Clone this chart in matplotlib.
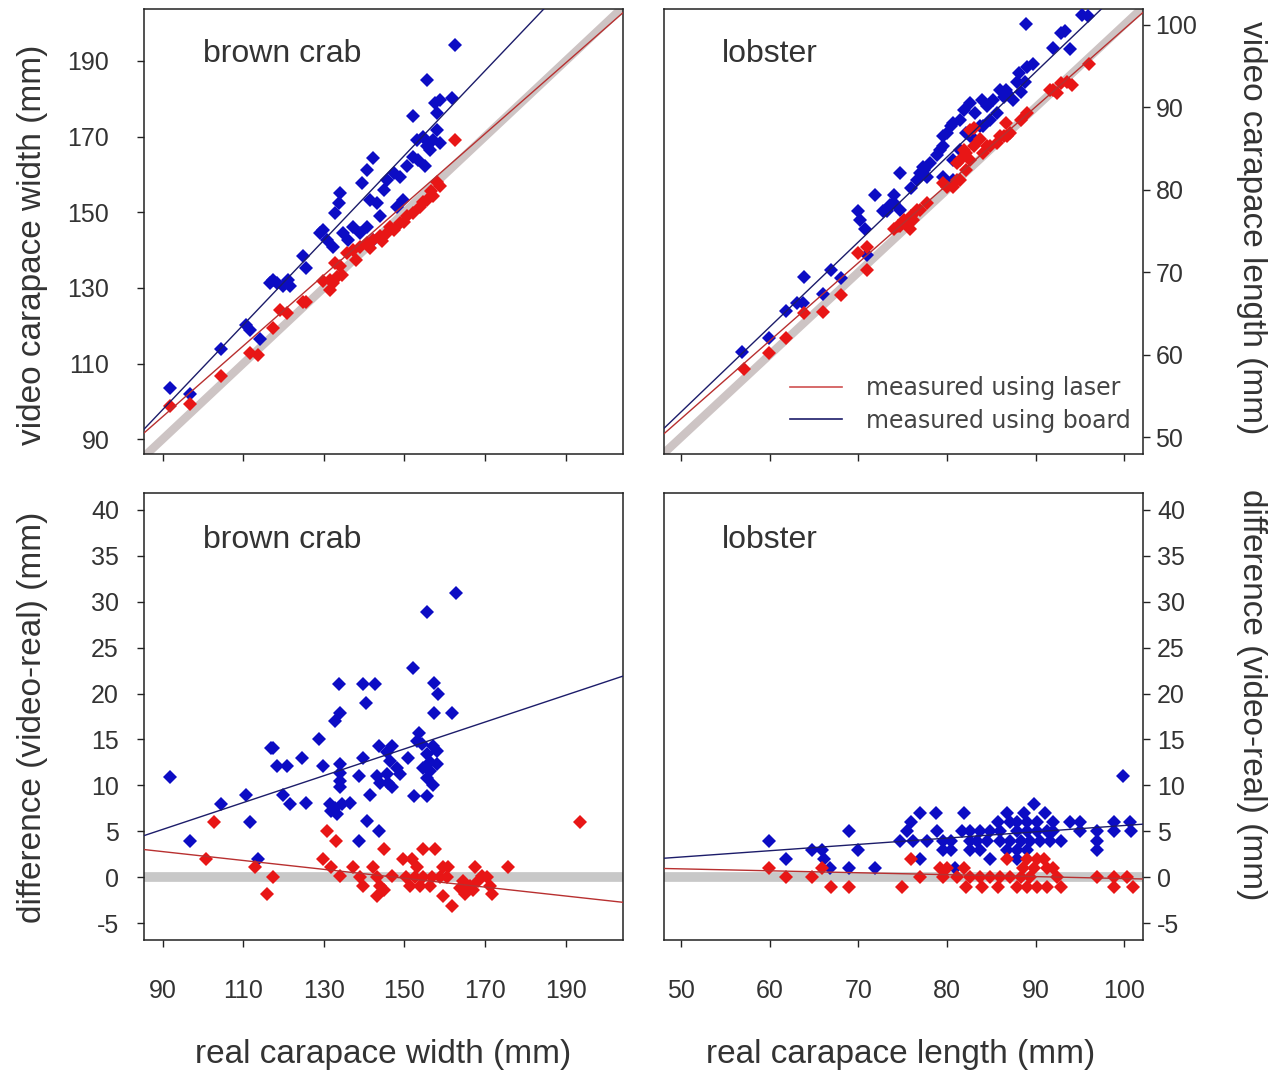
import numpy as np
import matplotlib
matplotlib.use("Agg")
from matplotlib import pyplot as plt
from matplotlib.lines import Line2D

plt.rcParams['font.family'] = ['Liberation Sans', 'DejaVu Sans']
plt.rcParams['axes.unicode_minus'] = False

# ---- brown crab: video vs real width (top left)
crab_top_laser_real = [91.8, 96.9, 104.6, 111.7, 113.7, 117.5, 119.1, 120.8, 124.9, 125.7, 129.9, 131.6,
                       133.2, 134.5, 132.8, 134.1, 131.5, 132.3, 135.7, 137.3, 139.0, 140.6, 142.3, 143.9,
                       145.6, 147.3, 138.1, 148.9, 150.6, 152.2, 153.9, 155.5, 157.2, 158.8, 158.0, 162.5,
                       141.5, 144.5, 146.5, 150.0, 154.5, 156.5]
crab_top_laser_video = [98.7, 99.3, 106.6, 112.8, 112.3, 119.4, 124.2, 123.3, 126.4, 126.4, 131.7, 132.1,
                        133.0, 133.5, 136.5, 135.7, 129.5, 131.3, 139.2, 140.1, 140.9, 141.8, 142.7, 143.6,
                        144.5, 145.3, 137.4, 147.1, 148.9, 149.8, 151.5, 153.3, 154.2, 156.8, 158.1, 169.0,
                        140.5, 142.5, 146.2, 147.5, 152.8, 155.5]
crab_top_board_real = [91.8, 96.9, 104.6, 110.7, 111.7, 114.2, 116.6, 118.3, 119.9, 121.2, 124.9, 125.7,
                       129.0, 129.9, 130.7, 132.3, 132.8, 133.7, 134.1, 134.8, 136.1, 137.3, 139.0, 140.6,
                       142.3, 139.4, 140.6, 142.3, 141.4, 143.1, 144.8, 145.6, 143.9, 147.3, 148.9, 150.6,
                       152.2, 148.1, 149.7, 152.2, 153.0, 154.7, 155.5, 157.2, 158.0, 158.8, 156.3, 153.4,
                       155.1, 155.5, 157.6, 158.8, 161.7, 158.0, 162.5, 117.4, 121.6]
crab_top_board_video = [103.5, 101.9, 113.8, 120.3, 118.9, 116.5, 131.3, 131.3, 130.4, 132.1, 138.3, 135.2,
                        144.5, 145.4, 142.7, 140.9, 149.8, 152.4, 155.0, 144.5, 142.7, 146.2, 144.5, 146.2,
                        142.7, 157.7, 161.2, 164.3, 153.3, 152.4, 155.9, 158.6, 148.9, 160.3, 159.4, 162.1,
                        164.7, 151.5, 153.3, 175.3, 169.1, 170.0, 167.4, 169.1, 171.8, 168.3, 166.5, 163.8,
                        162.1, 185.0, 178.8, 179.7, 180.1, 176.2, 194.2, 132.0, 130.4]

# ---- brown crab: difference vs real width (bottom left)
crab_diff_board_real = [91.8, 96.9, 104.6, 110.8, 111.8, 113.7, 116.8, 117.5, 118.3, 120.8, 119.9, 121.6,
                        124.7, 125.6, 128.9, 129.9, 131.5, 132.7, 134.4, 136.5, 131.9, 133.2, 133.8, 139.6,
                        142.7, 140.5, 134.0, 132.8, 134.0, 134.0, 134.0, 134.0, 139.8, 138.6, 143.8, 146.8,
                        145.6, 146.4, 148.1, 148.9, 145.6, 143.1, 143.9, 146.0, 146.8, 141.4, 140.6, 143.8,
                        138.6, 151.0, 152.0, 155.5, 162.8, 157.4, 158.4, 157.4, 161.7, 153.7, 153.0, 154.3,
                        155.5, 157.2, 158.0, 156.3, 158.0, 154.7, 156.3, 155.5, 157.2, 152.4, 155.5]
crab_diff_board = [10.9, 4.0, 8.0, 9.0, 6.0, 2.0, 14.1, 14.1, 12.1, 12.1, 9.0, 8.0,
                   13.0, 8.1, 15.0, 12.1, 8.0, 7.6, 8.0, 8.1, 7.2, 6.9, 21.0, 21.0,
                   21.0, 19.0, 17.9, 17.0, 12.3, 11.4, 10.5, 9.8, 13.0, 11.0, 14.3, 14.3,
                   13.6, 12.7, 11.9, 11.2, 11.2, 11.0, 10.3, 10.3, 9.8, 9.0, 6.1, 5.1,
                   4.0, 13.0, 22.8, 28.9, 30.9, 21.1, 19.9, 17.9, 17.9, 15.7, 14.8, 14.5,
                   13.4, 14.3, 13.7, 12.5, 12.3, 11.9, 11.6, 10.8, 10.1, 8.9, 8.9]
crab_diff_laser_real = [102.7, 100.8, 112.9, 117.5, 116.0, 193.6, 175.6, 130.7, 133.0, 129.9, 131.9, 134.0,
                        137.3, 139.0, 139.8, 142.3, 143.1, 143.9, 143.1, 144.8, 146.8, 149.7, 151.8, 150.5,
                        152.6, 154.7, 156.8, 151.3, 153.8, 156.3, 153.0, 154.7, 157.6, 159.6, 160.9, 158.9,
                        160.6, 159.6, 161.7, 163.8, 165.1, 166.3, 167.5, 169.2, 170.4, 171.2, 171.6, 168.3,
                        167.1, 164.6, 144.8]
crab_diff_laser = [6.0, 2.0, 1.1, 0.1, -1.8, 6.0, 1.1, 5.1, 4.0, 2.0, 1.1, 0.2,
                   1.1, 0.0, -0.9, 1.1, 0.0, -0.9, -2.0, -1.4, 0.2, 2.0, 2.0, 0.0,
                   0.0, 0.0, 0.0, -0.9, -0.9, -0.9, 1.1, 3.1, 3.1, 1.1, 1.1, 0.0,
                   0.0, -2.0, -3.1, -1.1, -1.8, -0.9, 1.1, 0.2, 0.0, -0.9, -1.8, -0.4,
                   -1.4, -0.4, 3.1]

# ---- lobster: video vs real length (top right)
lob_top_board_real = [56.9, 59.9, 61.8, 63.1, 63.8, 63.9, 66.0, 66.9, 68.0, 70.0, 70.2, 70.8,
                      71.0, 71.9, 73.2, 74.0, 74.7, 75.9, 76.6, 77.4, 78.1, 78.9, 79.6, 80.0,
                      80.4, 79.8, 80.7, 80.7, 81.5, 81.9, 82.6, 83.2, 83.9, 84.5, 85.2, 82.2,
                      83.0, 84.1, 84.9, 85.6, 86.4, 86.7, 87.5, 88.3, 88.1, 89.0, 89.7, 88.9,
                      92.0, 92.8, 93.3, 93.9, 95.2, 95.9, 79.6, 79.2, 77.3, 77.0, 77.7, 79.6,
                      74.0, 73.6, 72.8, 74.7, 87.9, 88.8, 86.0, 86.8, 81.5, 80.7, 83.7, 82.6]
lob_top_board_video = [60.3, 62.1, 65.3, 66.3, 66.3, 69.4, 67.4, 70.3, 69.3, 77.4, 76.4, 75.2,
                       72.1, 79.4, 77.4, 78.4, 82.0, 80.2, 81.2, 82.4, 83.2, 84.2, 85.3, 86.9,
                       87.7, 81.0, 81.2, 83.6, 84.8, 89.7, 90.5, 89.3, 90.9, 90.1, 90.9, 86.9,
                       86.1, 87.7, 88.5, 89.3, 91.3, 92.1, 90.9, 91.9, 94.1, 94.9, 95.2, 100.1,
                       97.2, 99.0, 99.2, 97.0, 101.2, 101.1, 86.5, 84.8, 82.8, 82.0, 81.6, 81.6,
                       79.4, 78.2, 77.4, 77.6, 93.1, 93.1, 92.1, 91.7, 88.5, 88.1, 87.7, 86.5]
lob_top_laser_real = [57.1, 59.9, 61.8, 63.9, 66.0, 68.0, 70.0, 71.0, 71.0, 74.0, 74.7, 75.5,
                      76.2, 77.0, 77.7, 75.8, 80.0, 80.7, 81.5, 81.5, 82.2, 83.0, 83.7, 84.5,
                      82.6, 84.1, 84.9, 85.6, 86.4, 87.1, 86.7, 89.0, 88.4, 92.0, 92.8, 93.5,
                      94.1, 96.0, 91.6, 92.4, 86.0, 86.8, 83.0, 81.9, 82.6, 81.1, 82.2, 79.6,
                      81.1, 76.6, 76.0, 75.1, 74.5]
lob_top_laser_video = [58.3, 60.2, 62.1, 65.1, 65.2, 67.3, 72.3, 73.1, 70.3, 75.2, 75.6, 76.0,
                       76.4, 77.6, 78.4, 75.2, 80.4, 80.4, 81.2, 83.6, 84.4, 85.3, 86.1, 85.3,
                       87.3, 84.4, 85.3, 85.7, 86.5, 86.9, 88.1, 89.3, 88.5, 92.1, 92.9, 93.1,
                       92.7, 95.2, 92.1, 91.7, 86.5, 86.5, 87.5, 84.8, 83.6, 83.2, 82.4, 80.8,
                       81.2, 77.6, 76.8, 76.4, 75.6]

# ---- lobster: difference vs real length (bottom right)
lob_diff_board_real = [59.9, 61.8, 64.8, 65.9, 66.1, 66.8, 68.9, 68.9, 70.0, 71.9,
                       77.0, 78.8, 81.9, 86.8, 88.7, 91.0, 89.8, 99.9,
                       75.9, 85.8, 87.1, 87.9, 89.0, 90.1, 92.0, 93.9, 95.0, 98.8, 100.6,
                       75.5, 78.9, 81.7, 82.6, 83.7, 84.9, 86.0, 87.9, 89.0, 90.1, 91.3, 92.0,
                       95.0, 96.9, 98.8, 100.7,
                       74.7, 76.2, 77.7, 79.6, 80.4, 82.6, 83.4, 84.5, 86.0, 87.1, 88.3, 89.4,
                       90.5, 91.6, 92.8, 96.9,
                       79.6, 80.4, 82.6, 83.7, 86.8, 87.9, 89.0, 96.9,
                       77.0, 84.9, 87.9, 80.9]
lob_diff_board = [4, 2, 3, 3, 2, 1, 5, 1, 3, 1,
                  7, 7, 7, 7, 7, 7, 8, 11,
                  6, 6, 6, 6, 6, 6, 6, 6, 6, 6, 6,
                  5, 5, 5, 5, 5, 5, 5, 5, 5, 5, 5, 5,
                  5, 5, 5, 5,
                  4, 4, 4, 4, 4, 4, 4, 4, 4, 4, 4, 4,
                  4, 4, 4, 4,
                  3, 3, 3, 3, 3, 3, 3, 3,
                  2, 2, 2, 1]
lob_diff_laser_real = [59.9, 61.8, 64.8, 65.9, 66.9, 68.9,
                       75.9, 86.8, 89.0, 90.1, 90.9,
                       79.2, 80.0, 81.9, 88.6, 89.8, 91.3, 92.0,
                       77.0, 79.6, 81.1, 82.6, 83.7, 84.9, 86.0, 87.1, 88.3, 89.4, 92.4, 96.9,
                       98.8, 100.3,
                       74.9, 82.1, 83.9, 85.8, 87.9, 89.0, 90.1, 91.3, 92.8, 98.8, 101.0]
lob_diff_laser = [1, 0, 0, 1, -1, -1,
                  2, 2, 2, 2, 2,
                  1, 1, 1, 1, 1, 1, 1,
                  0, 0, 0, 0, 0, 0, 0, 0, 0, 0, 0, 0,
                  0, 0,
                  -1, -1, -1, -1, -1, -1, -1, -1, -1, -1, -1]

# fitted lines: (intercept, slope)
fit_crab_top_laser = (11.8, 0.935)
fit_crab_top_board = (-3.0, 1.12)
fit_crab_diff_laser = (7.16, -0.0483)
fit_crab_diff_board = (-7.92, 0.146)
fit_lob_top_laser = (5.0, 0.945)
fit_lob_top_board = (1.57, 1.030)
fit_lob_diff_laser = (1.99, -0.0211)
fit_lob_diff_board = (-1.21, 0.0686)

crab_ticks = [90, 110, 130, 150, 170, 190]
lob_ticks = [50, 60, 70, 80, 90, 100]
diff_ticks = [-5, 0, 5, 10, 15, 20, 25, 30, 35, 40]

W, H = 1271, 1074
BLUE = '#0c0cc4'
RED = '#e81616'
LBLUE = '#1c1c6a'
LRED = '#b83030'
BAND = '#c8c8c8'
BAND_TOP = '#cdc4c4'
TXT = '#333333'

fig = plt.figure(figsize=(W / 100, H / 100), dpi=100)


def px_axes(x0, y0, x1, y1):
    return fig.add_axes([x0 / W, 1 - y1 / H, (x1 - x0) / W, (y1 - y0) / H])


def style(ax, side, ypad):
    for s in ax.spines.values():
        s.set_color('#222222')
        s.set_linewidth(1.1)
    ax.tick_params(direction='out', length=5, width=1, colors='#222222',
                   labelsize=18, labelcolor=TXT)
    ax.tick_params(axis='x', pad=23)
    ax.tick_params(axis='y', pad=ypad)
    if side == 'right':
        ax.yaxis.tick_right()


def draw_points(ax, x, y, c):
    ax.plot(x, y, linestyle='none', marker='D', markersize=7.6,
            markeredgewidth=0, color=c, zorder=3)


def draw_fit(ax, fit, c, xlim):
    xs = np.array(xlim)
    ax.plot(xs, fit[0] + fit[1] * xs, color=c, lw=1.0, zorder=4)


crab_lim = (85.4, 204.2)
lob_lim = (48.1, 102.1)
diff_lim = (-6.8, 41.8)

# top left
ax = px_axes(144, 9, 623, 454)
ax.plot(crab_lim, crab_lim, color=BAND_TOP, lw=6, solid_capstyle='butt', zorder=1)
draw_points(ax, crab_top_board_real, crab_top_board_video, BLUE)
draw_points(ax, crab_top_laser_real, crab_top_laser_video, RED)
draw_fit(ax, fit_crab_top_laser, LRED, crab_lim)
draw_fit(ax, fit_crab_top_board, LBLUE, crab_lim)
ax.set_xlim(crab_lim)
ax.set_ylim(86.1, 203.7)
ax.set_xticks(crab_ticks)
ax.set_xticklabels([])
ax.set_yticks(crab_ticks)
style(ax, 'left', 20)
ax.text(0.123, 0.881, 'brown crab', transform=ax.transAxes, fontsize=23, color=TXT)

# top right
ax = px_axes(664, 9, 1143, 454)
ax.plot(lob_lim, lob_lim, color=BAND_TOP, lw=6, solid_capstyle='butt', zorder=1)
draw_points(ax, lob_top_board_real, lob_top_board_video, BLUE)
draw_points(ax, lob_top_laser_real, lob_top_laser_video, RED)
draw_fit(ax, fit_lob_top_laser, LRED, lob_lim)
draw_fit(ax, fit_lob_top_board, LBLUE, lob_lim)
ax.set_xlim(lob_lim)
ax.set_ylim(48.0, 101.9)
ax.set_xticks(lob_ticks)
ax.set_xticklabels([])
ax.set_yticks(lob_ticks)
style(ax, 'right', 4)
ax.text(0.120, 0.881, 'lobster', transform=ax.transAxes, fontsize=23, color=TXT)
handles = [Line2D([], [], color='#d05050', lw=1.2),
           Line2D([], [], color=LBLUE, lw=1.2)]
ax.legend(handles, ['measured using laser', 'measured using board'],
          loc='center left', bbox_to_anchor=(0.263, 0.111), frameon=False,
          borderpad=0, borderaxespad=0, handlelength=2.2, handletextpad=1.0,
          labelspacing=0.35, prop={'family': 'DejaVu Sans', 'size': 17},
          labelcolor='#444444')

# bottom left
ax = px_axes(144, 493, 623, 940)
ax.plot(crab_lim, (0, 0), color=BAND, lw=7, solid_capstyle='butt', zorder=1)
draw_points(ax, crab_diff_board_real, crab_diff_board, BLUE)
draw_points(ax, crab_diff_laser_real, crab_diff_laser, RED)
draw_fit(ax, fit_crab_diff_laser, LRED, crab_lim)
draw_fit(ax, fit_crab_diff_board, LBLUE, crab_lim)
ax.set_xlim(crab_lim)
ax.set_ylim(diff_lim)
ax.set_xticks(crab_ticks)
ax.set_yticks(diff_ticks)
style(ax, 'left', 13)
ax.text(0.123, 0.876, 'brown crab', transform=ax.transAxes, fontsize=23, color=TXT)

# bottom right
ax = px_axes(664, 493, 1143, 940)
ax.plot(lob_lim, (0, 0), color=BAND, lw=7, solid_capstyle='butt', zorder=1)
draw_points(ax, lob_diff_board_real, lob_diff_board, BLUE)
draw_points(ax, lob_diff_laser_real, lob_diff_laser, RED)
draw_fit(ax, fit_lob_diff_laser, LRED, lob_lim)
draw_fit(ax, fit_lob_diff_board, LBLUE, lob_lim)
ax.set_xlim(lob_lim)
ax.set_ylim(diff_lim)
ax.set_xticks(lob_ticks)
ax.set_yticks(diff_ticks)
style(ax, 'right', 5)
ax.text(0.120, 0.876, 'lobster', transform=ax.transAxes, fontsize=23, color=TXT)

# axis titles
lab = dict(fontsize=24, color=TXT, ha='center', va='center')
fig.text(33 / W, 1 - 245 / H, 'video carapace width (mm)', rotation=90, **lab)
fig.text(33 / W, 1 - 717 / H, 'difference (video-real) (mm)', rotation=90, **lab)
fig.text(1251 / W, 1 - 228 / H, 'video carapace length (mm)', rotation=270, **lab)
fig.text(1251 / W, 1 - 695 / H, 'difference (video-real) (mm)', rotation=270, **lab)
fig.text(383 / W, 1 - 1055 / H, 'real carapace width (mm)', **lab)
fig.text(901 / W, 1 - 1055 / H, 'real carapace length (mm)', **lab)

fig.savefig('out.png', dpi=100)
